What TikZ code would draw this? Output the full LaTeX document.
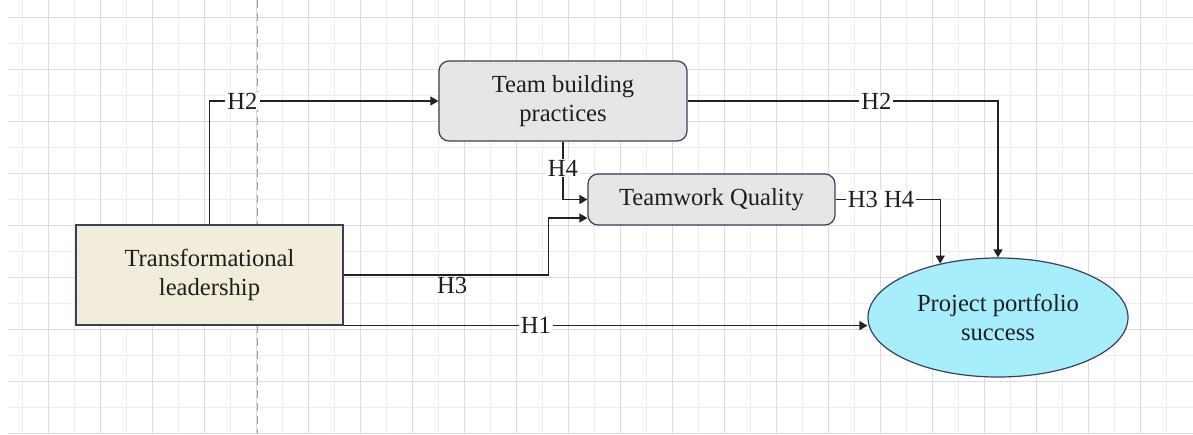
\documentclass[tikz,border=0pt]{standalone}
\usepackage{fontspec}
\setmainfont{Liberation Serif}
\usetikzlibrary{arrows.meta,positioning,shapes.geometric}

\definecolor{gridlight}{HTML}{EDEDED}
\definecolor{griddark}{HTML}{DDDDDD}
\definecolor{guidegray}{HTML}{A0A0A0}
\definecolor{edgeblue}{HTML}{3A3F5C}
\definecolor{inkgray}{HTML}{1E1E1E}
\definecolor{linegray}{HTML}{222222}
\definecolor{leadfill}{HTML}{F2ECDA}
\definecolor{teamfill}{HTML}{E6E6E6}
\definecolor{succfill}{HTML}{A6EEFC}

\begin{document}
\begin{tikzpicture}[x=0.5pt, y=-0.5pt, >={Triangle[length=4pt,width=4.5pt]},
  box/.style={draw=edgeblue, line width=0.6pt, align=center, text=inkgray,
    font=\fontsize{12.3}{14.6}\selectfont},
  conn/.style={draw=linegray, line width=0.65pt, ->},
  lbl/.style={fill=white, text=inkgray, inner xsep=1pt, inner ysep=0.5pt,
    font=\fontsize{12.3}{14.6}\selectfont}]

% Canvas
\useasboundingbox (0,0) rectangle (1193,434);
\fill[white] (0,0) rectangle (1193,434);

% Grid
\foreach \k in {0,...,22}
  \draw[gridlight, line width=0.5pt] ({22.7+52*\k},0) -- ({22.7+52*\k},433.5);
\foreach \k in {0,...,7}
  \draw[gridlight, line width=0.5pt] (8,{43.3+52*\k}) -- (1193,{43.3+52*\k});
\foreach \k in {0,...,21}
  \draw[griddark, line width=0.5pt] ({48.7+52*\k},0) -- ({48.7+52*\k},433.5);
\foreach \k in {0,...,8}
  \draw[griddark, line width=0.5pt] (8,{17.3+52*\k}) -- (1193,{17.3+52*\k});

% Dashed guide
\draw[guidegray, line width=0.5pt, dash pattern=on 4pt off 2.5pt] (257.5,0) -- (257.5,434);

% Constructs
\node[box, fill=leadfill, minimum width=133.5pt, minimum height=50pt] (lead) at (209.5,275) {Transformational\\leadership};
\node[box, fill=teamfill, rounded corners=5pt, minimum width=124pt, minimum height=40pt] (build) at (563,101) {Team building\\practices};
\node[box, fill=teamfill, rounded corners=5pt, minimum width=123.5pt, minimum height=25.5pt] (quality) at (711.5,199.5) {Teamwork Quality};
\node[box, ellipse, fill=succfill, inner sep=0pt, minimum width=130pt, minimum height=59.5pt] (success) at (998,317.5) {Project portfolio\\success};

% Second input into Teamwork Quality
\coordinate (qualityin) at ([yshift=-9.25pt]quality.west);

% Hypotheses
\draw[conn] (lead.north) |- node[lbl, pos=0.572] {H2} (build.west);
\draw[conn] (build.east) -| node[lbl, pos=0.304] {H2} (success.north);
\draw[conn] (build.south) |- node[lbl, pos=0.229] {H4} (quality.west);
\draw[conn] (lead.east) -- node[lbl, below=0.5pt, pos=0.53] {H3} ++(205,0) |- (qualityin);
\draw[conn] (quality.east) -| node[lbl, pos=0.217] {H3 H4} (success.137.5);
\draw[conn] (lead.south east) -- node[lbl, pos=0.367] {H1} (lead.south east -| success.west);

\end{tikzpicture}
\end{document}
